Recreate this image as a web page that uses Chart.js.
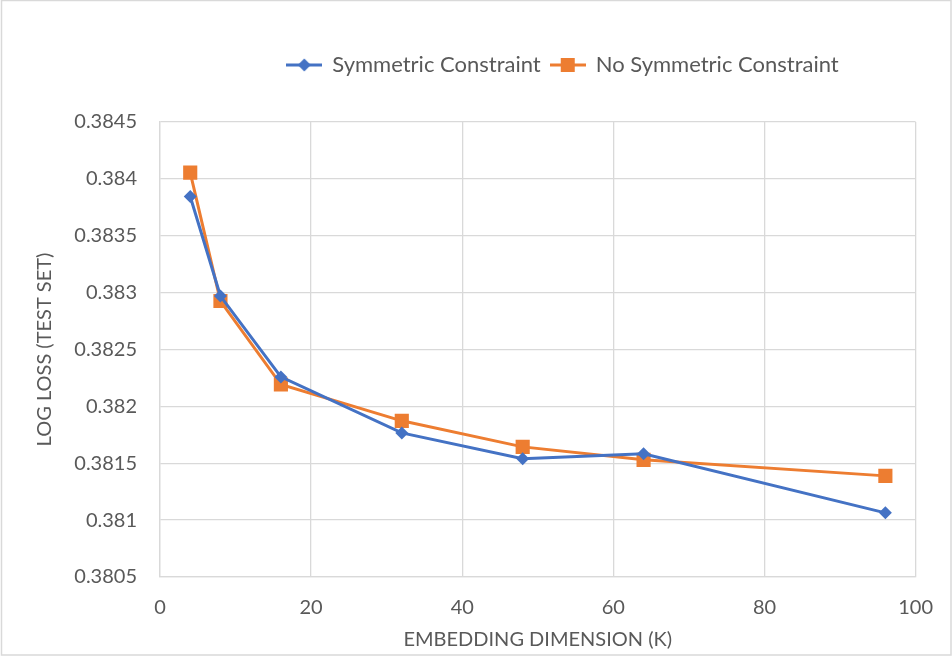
<!DOCTYPE html>
<html>
<head>
<meta charset="utf-8">
<script src="https://cdn.jsdelivr.net/npm/chart.js@4.4.1/dist/chart.umd.min.js"></script>
<style>
  html, body { margin: 0; padding: 0; background: #fff; }
  #wrap { width: 952px; height: 656px; }
</style>
</head>
<body>
<div id="wrap"><canvas id="chart" width="952" height="656"></canvas></div>
<script>
// embedding dimension K
const dimensions = [4, 8, 16, 32, 48, 64, 96];
// log loss on the test set
const symmetricLoss = [0.383845, 0.38297, 0.382259, 0.381767, 0.381539, 0.381583, 0.381064];
const noSymmetricLoss = [0.384055, 0.382926, 0.382192, 0.381873, 0.381644, 0.38153, 0.381389];

const seriesNames = ['Symmetric Constraint', 'No Symmetric Constraint'];
const blue = '#4472C4';
const orange = '#ED7D31';
const textColor = '#595959';
const gridColor = '#D9D9D9';
const fontFamily = 'Lato, "Liberation Sans", sans-serif';

// little line-with-marker images for the legend
function legendIcon(color, shape) {
    const c = document.createElement('canvas');
    c.width = 36;
    c.height = 16;
    const g = c.getContext('2d');
    g.strokeStyle = color;
    g.lineWidth = 3;
    g.beginPath();
    g.moveTo(0, 8);
    g.lineTo(36, 8);
    g.stroke();
    g.fillStyle = color;
    g.beginPath();
    if (shape === 'diamond') {
        g.moveTo(18, 1.5);
        g.lineTo(24.5, 8);
        g.lineTo(18, 14.5);
        g.lineTo(11.5, 8);
        g.closePath();
    } else {
        g.rect(11, 1, 14, 14);
    }
    g.fill();
    return c;
}

const chartFrame = {
    id: 'chartFrame',
    beforeDraw(chart) {
        const ctx = chart.ctx;
        ctx.save();
        ctx.fillStyle = '#fff';
        ctx.fillRect(0, 0, chart.width, chart.height);
        ctx.strokeStyle = gridColor;
        ctx.lineWidth = 1.5;
        ctx.strokeRect(1.5, 0.5, chart.width - 2.5, chart.height - 1.5);
        ctx.restore();
    }
};

// fixed legend height, legend centred over x = 563
const legendPlace = {
    id: 'legendPlace',
    beforeInit(chart) {
        const legend = chart.legend;
        const origFit = legend.fit;
        legend.fit = function () {
            origFit.call(this);
            this.height = 122 - 44;
        };
        const origDraw = legend.draw;
        legend.draw = function () {
            const ctx = this.ctx;
            let left = Infinity, right = -Infinity;
            (this.legendHitBoxes || []).forEach(b => {
                left = Math.min(left, b.left);
                right = Math.max(right, b.left + b.width);
            });
            const dx = isFinite(left) ? 563 - (left + right) / 2 : 0;
            ctx.save();
            ctx.translate(dx, 0);
            origDraw.call(this);
            ctx.restore();
        };
    }
};

new Chart(document.getElementById('chart'), {
    type: 'line',
    data: {
        datasets: [
            {
                label: seriesNames[0],
                data: dimensions.map((d, i) => ({ x: d, y: symmetricLoss[i] })),
                borderColor: blue,
                backgroundColor: blue,
                borderWidth: 3,
                pointStyle: 'rectRot',
                pointRadius: 6.5,
                pointBorderWidth: 0,
                legendIcon: legendIcon(blue, 'diamond')
            },
            {
                label: seriesNames[1],
                data: dimensions.map((d, i) => ({ x: d, y: noSymmetricLoss[i] })),
                borderColor: orange,
                backgroundColor: orange,
                borderWidth: 3,
                pointStyle: 'rect',
                pointRadius: 10,
                pointBorderWidth: 0,
                legendIcon: legendIcon(orange, 'square')
            }
        ]
    },
    options: {
        responsive: false,
        animation: false,
        layout: { padding: { top: 44, left: 0, right: 34, bottom: 0 } },
        plugins: {
            tooltip: { enabled: false },
            legend: {
                position: 'top',
                labels: {
                    usePointStyle: true,
                    pointStyleWidth: 34,
                    padding: 10,
                    color: textColor,
                    font: { family: fontFamily, size: 22 },
                    generateLabels(chart) {
                        return chart.data.datasets.map((ds, i) => ({
                            text: ds.label,
                            fontColor: textColor,
                            pointStyle: ds.legendIcon,
                            lineWidth: 0,
                            strokeStyle: 'transparent',
                            fillStyle: ds.borderColor,
                            datasetIndex: i
                        }));
                    }
                }
            }
        },
        scales: {
            x: {
                type: 'linear',
                min: 0,
                max: 100,
                ticks: {
                    stepSize: 20,
                    color: textColor,
                    padding: 19,
                    font: { family: fontFamily, size: 20 }
                },
                grid: { color: gridColor, lineWidth: 1.3, drawTicks: false },
                border: { color: gridColor, width: 1.3 },
                title: {
                    display: true,
                    text: 'EMBEDDING DIMENSION (K)',
                    color: textColor,
                    padding: { top: 0, bottom: 4 },
                    font: { family: fontFamily, size: 20 }
                },
                afterFit(scale) { scale.height = 656 - 577; }
            },
            y: {
                min: 0.3805,
                max: 0.3845,
                ticks: {
                    stepSize: 0.0005,
                    color: textColor,
                    padding: 23,
                    font: { family: fontFamily, size: 20 },
                    callback: v => String(Number(v.toFixed(4)))
                },
                grid: { color: gridColor, lineWidth: 1.3, drawTicks: false },
                border: { color: gridColor, width: 1.3 },
                title: {
                    display: true,
                    text: 'LOG LOSS (TEST SET)',
                    color: textColor,
                    padding: { top: 33, bottom: 0 },
                    font: { family: fontFamily, size: 20 }
                },
                afterFit(scale) { scale.width = 160; }
            }
        }
    },
    plugins: [chartFrame, legendPlace]
});
</script>
</body>
</html>
